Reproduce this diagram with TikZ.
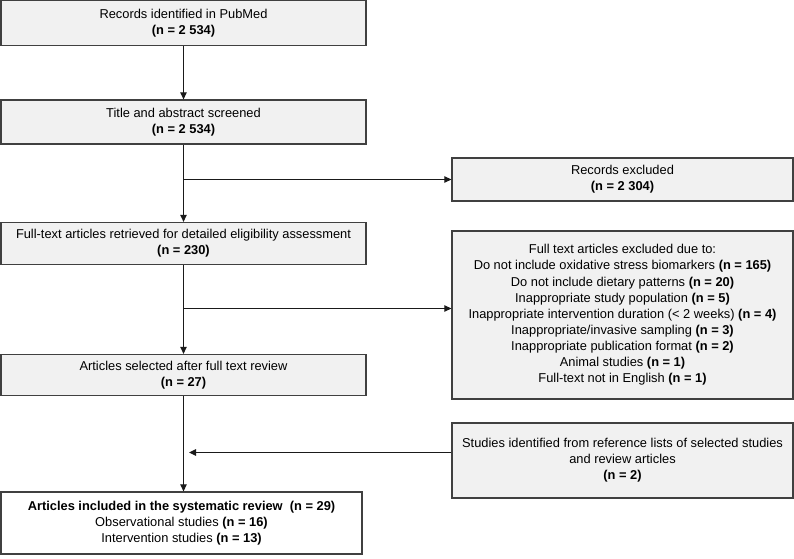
\documentclass[tikz,border=0pt]{standalone}
\usepackage{fontspec}
\setmainfont{Liberation Sans}
\usetikzlibrary{arrows.meta}
\definecolor{boxfill}{HTML}{F1F1F1}
\definecolor{boxline}{HTML}{404040}
\definecolor{arrline}{HTML}{1A1A1A}
\begin{document}
\begin{tikzpicture}[x=1bp,y=-1bp,
  box/.style={draw=boxline, fill=boxfill, line width=1.3bp, align=center, inner sep=0pt,
    font=\fontsize{12.9}{16.2}\selectfont},
  arr/.style={draw=arrline, line width=1.2bp, -{Triangle[length=7bp,width=6.5bp]}}]
\useasboundingbox (0,0) rectangle (794,559);
\fill[white] (0,0) rectangle (794,559);
% main column
\node[box, minimum width=365bp, minimum height=45bp] (b1) at (183.5,23)
  {Records identified in PubMed\\\textbf{(n = 2 534)}};
\node[box, minimum width=365bp, minimum height=44bp] (b2) at (183.5,122)
  {Title and abstract screened\\\textbf{(n = 2 534)}};
\node[box, minimum width=365bp, minimum height=42bp] (b3) at (183.5,243.5)
  {Full-text articles retrieved for detailed eligibility assessment\\\textbf{(n = 230)}};
\node[box, minimum width=365bp, minimum height=41bp] (b4) at (183.5,375)
  {Articles selected after full text review\\\textbf{(n = 27)}};
\node[box, fill=white, minimum width=361bp, minimum height=62bp] (b5) at (181.5,523)
  {\textbf{Articles included in the systematic review\ \ (n = 29)}\\
   Observational studies \textbf{(n = 16)}\\
   Intervention studies \textbf{(n = 13)}};
% right column
\node[box, minimum width=341bp, minimum height=43bp] (e1) at (622.5,179.5)
  {Records excluded\\\textbf{(n = 2 304)}};
\node[box, minimum width=341bp, minimum height=168bp] (e2) at (622.5,315)
  {Full text articles excluded due to:\\
   Do not include oxidative stress biomarkers \textbf{(n = 165)}\\
   Do not include dietary patterns \textbf{(n = 20)}\\
   Inappropriate study population \textbf{(n = 5)}\\
   Inappropriate intervention duration (< 2 weeks) \textbf{(n = 4)}\\
   Inappropriate/invasive sampling \textbf{(n = 3)}\\
   Inappropriate publication format \textbf{(n = 2)}\\
   Animal studies \textbf{(n = 1)}\\
   Full-text not in English \textbf{(n = 1)}};
\node[box, minimum width=341bp, minimum height=75bp] (e3) at (622.5,460.5)
  {Studies identified from reference lists of selected studies\\
   and review articles\\\textbf{(n = 2)}};
% connectors
\coordinate (j1) at (183.5,179.5);
\coordinate (j2) at (183.5,308.5);
\coordinate (j3) at (189,452.5);
\draw[arr] (b1) -- (b2);
\draw[arr] (b2) -- (b3);
\draw[arr] (b3) -- (b4);
\draw[arr] (b4) -- (b5.north -| b4.south);
\draw[arr] (j1) -- (e1.west);
\draw[arr] (j2) -- (j2 -| e2.west);
\draw[arr] (j3 -| e3.west) -- (j3);
\end{tikzpicture}
\end{document}
